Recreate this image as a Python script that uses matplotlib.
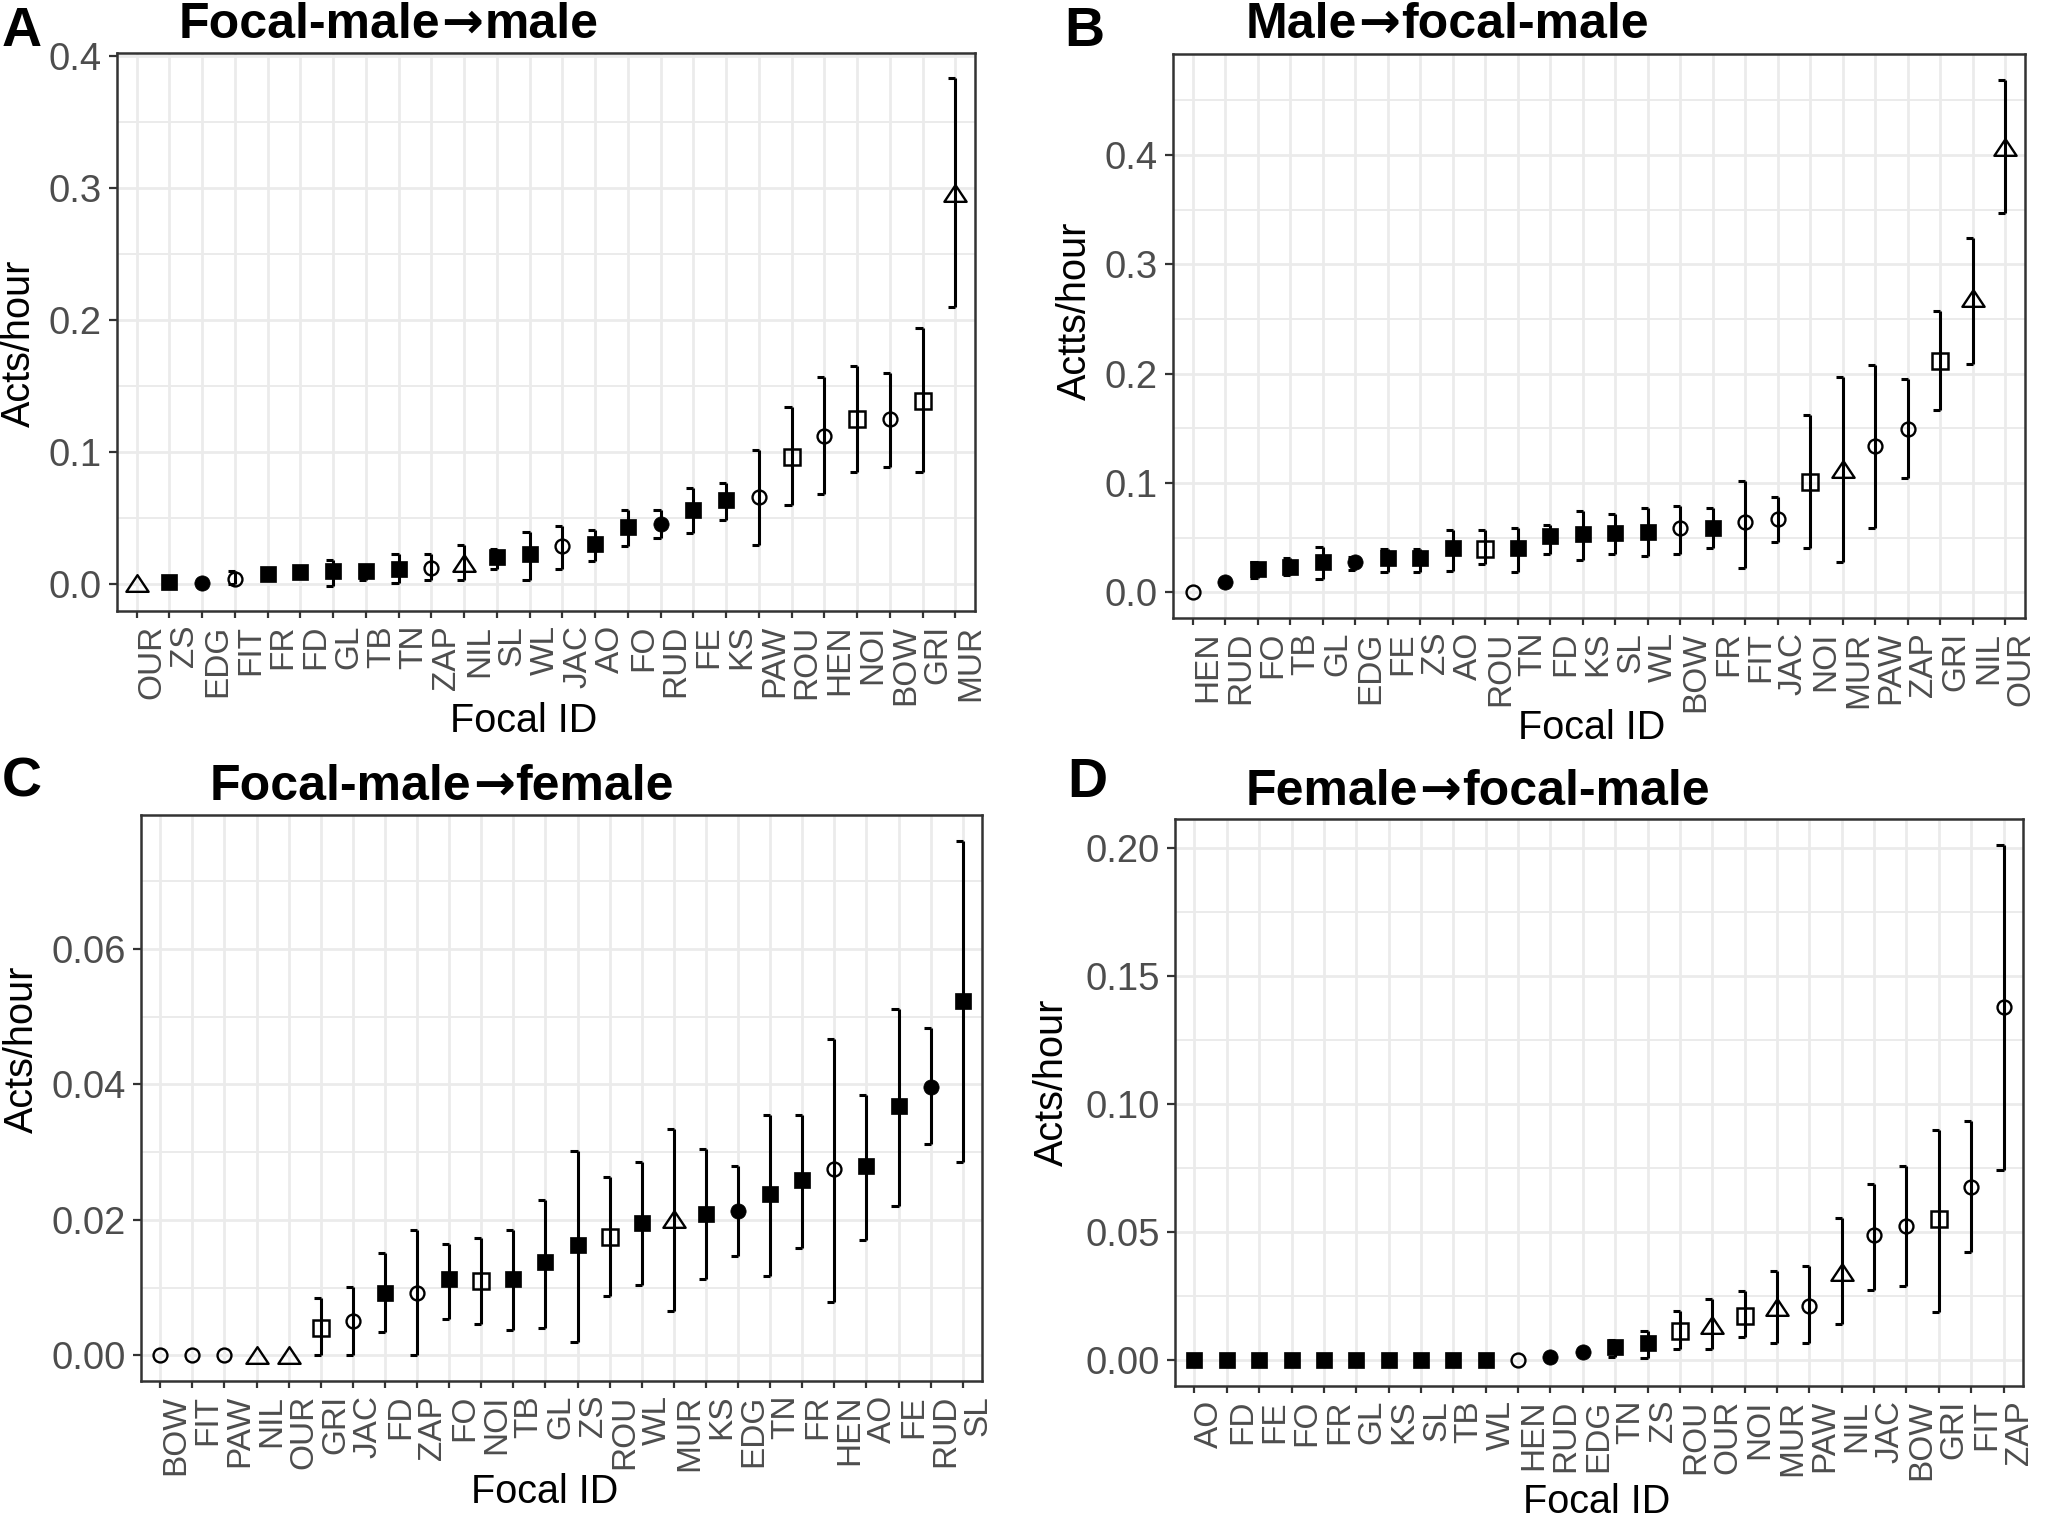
import matplotlib
matplotlib.use("Agg")
import matplotlib.pyplot as plt
from matplotlib.path import Path
from matplotlib.ticker import AutoMinorLocator

# ---------------- data ----------------
A_ids = ["OUR", "ZS", "EDG", "FIT", "FR", "FD", "GL", "TB", "TN", "ZAP", "NIL", "SL", "WL",
         "JAC", "AO", "FO", "RUD", "FE", "KS", "PAW", "ROU", "HEN", "NOI", "BOW", "GRI", "MUR"]
A_mean = [0.001, 0.002, 0.001, 0.004, 0.0077, 0.0094, 0.010, 0.010, 0.0119, 0.0124, 0.016, 0.0207, 0.0227,
          0.029, 0.0308, 0.0434, 0.0455, 0.0566, 0.064, 0.066, 0.0963, 0.112, 0.125, 0.125, 0.139, 0.296]
A_lo = [0.001, 0.002, 0.001, 0.0, 0.0077, 0.0094, -0.001, 0.0035, 0.001, 0.0035, 0.0035, 0.0114, 0.0035,
        0.0119, 0.018, 0.029, 0.035, 0.039, 0.049, 0.030, 0.060, 0.068, 0.085, 0.089, 0.085, 0.210]
A_hi = [0.001, 0.002, 0.001, 0.010, 0.0077, 0.0094, 0.0187, 0.0144, 0.0232, 0.0232, 0.0295, 0.027, 0.0396,
        0.044, 0.0414, 0.056, 0.056, 0.073, 0.077, 0.102, 0.134, 0.157, 0.165, 0.160, 0.194, 0.383]
A_yticks = [0.0, 0.1, 0.2, 0.3, 0.4]
A_yticklabels = ["0.0", "0.1", "0.2", "0.3", "0.4"]

B_ids = ["HEN", "RUD", "FO", "TB", "GL", "EDG", "FE", "ZS", "AO", "ROU", "TN", "FD", "KS", "SL",
         "WL", "BOW", "FR", "FIT", "JAC", "NOI", "MUR", "PAW", "ZAP", "GRI", "NIL", "OUR"]
B_mean = [0.0, 0.0097, 0.0218, 0.023, 0.0279, 0.0279, 0.031, 0.031, 0.0406, 0.0394, 0.0406, 0.0512, 0.0536,
          0.0542, 0.0552, 0.059, 0.0588, 0.0642, 0.067, 0.101, 0.113, 0.134, 0.149, 0.212, 0.269, 0.407]
B_lo = [0.0, 0.0097, 0.0127, 0.016, 0.0118, 0.0203, 0.0188, 0.0188, 0.0197, 0.0255, 0.0188, 0.0355, 0.030,
        0.0355, 0.033, 0.0355, 0.0409, 0.0227, 0.046, 0.041, 0.028, 0.059, 0.105, 0.167, 0.209, 0.347]
B_hi = [0.0, 0.0097, 0.028, 0.031, 0.0415, 0.0324, 0.0394, 0.0394, 0.0567, 0.0567, 0.059, 0.0615, 0.0748,
        0.0718, 0.0773, 0.0794, 0.077, 0.1018, 0.087, 0.162, 0.197, 0.208, 0.195, 0.257, 0.324, 0.469]
B_yticks = [0.0, 0.1, 0.2, 0.3, 0.4]
B_yticklabels = ["0.0", "0.1", "0.2", "0.3", "0.4"]

C_ids = ["BOW", "FIT", "PAW", "NIL", "OUR", "GRI", "JAC", "FD", "ZAP", "FO", "NOI", "TB", "GL", "ZS",
         "ROU", "WL", "MUR", "KS", "EDG", "TN", "FR", "HEN", "AO", "FE", "RUD", "SL"]
C_mean = [0.0, 0.0, 0.0, 0.0, 0.0, 0.0041, 0.005, 0.0092, 0.0092, 0.0112, 0.011, 0.0112, 0.0138, 0.0163,
          0.0174, 0.0196, 0.0201, 0.0209, 0.0213, 0.0238, 0.0259, 0.0275, 0.0279, 0.0368, 0.0396, 0.0524]
C_lo = [0.0, 0.0, 0.0, 0.0, 0.0, 0.0, 0.0, 0.0034, 0.0, 0.0054, 0.0046, 0.0038, 0.0041, 0.002,
        0.0088, 0.0104, 0.0066, 0.0112, 0.0146, 0.0117, 0.0159, 0.0079, 0.0171, 0.022, 0.0312, 0.0286]
C_hi = [0.0, 0.0, 0.0, 0.0, 0.0, 0.0084, 0.0101, 0.0151, 0.0185, 0.0164, 0.0173, 0.0185, 0.023, 0.0301,
        0.0264, 0.0285, 0.0334, 0.0305, 0.028, 0.0355, 0.0355, 0.0467, 0.0384, 0.0512, 0.0483, 0.0760]
C_yticks = [0.00, 0.02, 0.04, 0.06]
C_yticklabels = ["0.00", "0.02", "0.04", "0.06"]

D_ids = ["AO", "FD", "FE", "FO", "FR", "GL", "KS", "SL", "TB", "WL", "HEN", "RUD", "EDG", "TN",
         "ZS", "ROU", "OUR", "NOI", "MUR", "PAW", "NIL", "JAC", "BOW", "GRI", "FIT", "ZAP"]
D_mean = [0.0, 0.0, 0.0, 0.0, 0.0, 0.0, 0.0, 0.0, 0.0, 0.0, 0.0, 0.0012, 0.0033, 0.0053,
          0.0068, 0.0114, 0.0138, 0.0174, 0.0207, 0.0213, 0.0345, 0.049, 0.0522, 0.0551, 0.0674, 0.1377]
D_lo = [0.0, 0.0, 0.0, 0.0, 0.0, 0.0, 0.0, 0.0, 0.0, 0.0, 0.0, 0.0012, 0.0033, 0.0012,
        0.0009, 0.0045, 0.0045, 0.0091, 0.0066, 0.0066, 0.0143, 0.0275, 0.0288, 0.019, 0.0424, 0.0742]
D_hi = [0.0, 0.0, 0.0, 0.0, 0.0, 0.0, 0.0, 0.0, 0.0, 0.0, 0.0, 0.0012, 0.0033, 0.0078,
        0.0114, 0.0191, 0.0237, 0.0272, 0.0349, 0.0368, 0.0555, 0.0689, 0.0756, 0.0898, 0.0932, 0.2011]
D_yticks = [0.00, 0.05, 0.10, 0.15, 0.20]
D_yticklabels = ["0.00", "0.05", "0.10", "0.15", "0.20"]

# marker class of each individual
tri_ids = ["OUR", "NIL", "MUR"]
open_sq_ids = ["ROU", "NOI", "GRI"]
open_circ_ids = ["FIT", "ZAP", "JAC", "PAW", "HEN", "BOW"]
fill_circ_ids = ["EDG", "RUD"]

titles = ["Focal-male\u2192male", "Male\u2192focal-male", "Focal-male\u2192female", "Female\u2192focal-male"]
letters = ["A", "B", "C", "D"]
ylabels = ["Acts/hour", "Actts/hour", "Acts/hour", "Acts/hour"]
xlabel = "Focal ID"

# ---------------- style ----------------
W, H = 2048, 1519
plt.rcParams["font.family"] = ["Liberation Sans", "DejaVu Sans"]
fig = plt.figure(figsize=(W / 100, H / 100), dpi=100)
renderer = fig.canvas.get_renderer()

tri_path = Path([(-1, -0.75), (1, -0.75), (0, 0.75), (-1, -0.75)],
                [Path.MOVETO, Path.LINETO, Path.LINETO, Path.CLOSEPOLY])


def style_for(name):
    if name in tri_ids:
        return dict(marker=tri_path, ms=16, mfc="none", mec="black", mew=1.7)
    if name in open_sq_ids:
        return dict(marker="s", ms=11.5, mfc="none", mec="black", mew=1.8)
    if name in open_circ_ids:
        return dict(marker="o", ms=10, mfc="none", mec="black", mew=1.7)
    if name in fill_circ_ids:
        return dict(marker="o", ms=11, mfc="black", mec="black", mew=0.5)
    return dict(marker="s", ms=11, mfc="black", mec="black", mew=0.5)


def px_rect(l, t, r, b):
    return [l / W, 1 - b / H, (r - l) / W, (b - t) / H]


def ftext(x, y, s, **kw):
    return fig.text(x / W, 1 - y / H, s, **kw)


def title_text(x, y, s, size):
    # draw the title in pieces so the arrow uses DejaVu Sans (larger arrow glyph)
    left, right = s.split("\u2192")
    pieces = [(left, ["Liberation Sans"]), ("\u2192", ["DejaVu Sans"]), (right, ["Liberation Sans"])]
    cur = x
    for txt, fam in pieces:
        t = ftext(cur, y, txt, fontsize=size, fontweight="bold", family=fam,
                  ha="left", va="baseline")
        bb = t.get_window_extent(renderer)
        cur = bb.x1 + 1


panels = [
    dict(ids=A_ids, mean=A_mean, lo=A_lo, hi=A_hi, yt=A_yticks, ytl=A_yticklabels,
         rect=(117, 53, 975, 611), title=(179, 38), letter=(2, 46), ylab=(19, 343), xlab=(524, 721)),
    dict(ids=B_ids, mean=B_mean, lo=B_lo, hi=B_hi, yt=B_yticks, ytl=B_yticklabels,
         rect=(1173, 54, 2025, 618), title=(1246, 38), letter=(1064, 46), ylab=(1075, 311), xlab=(1592, 728)),
    dict(ids=C_ids, mean=C_mean, lo=C_lo, hi=C_hi, yt=C_yticks, ytl=C_yticklabels,
         rect=(141, 815, 982, 1381), title=(210, 800), letter=(2, 797), ylab=(22, 1049), xlab=(545, 1492)),
    dict(ids=D_ids, mean=D_mean, lo=D_lo, hi=D_hi, yt=D_yticks, ytl=D_yticklabels,
         rect=(1175, 819, 2023, 1386), title=(1246, 805), letter=(1067, 797), ylab=(1052, 1082), xlab=(1597, 1502)),
]

grid_c = "#EBEBEB"
dark = "#333333"
tick_c = "#4D4D4D"

for k, p in enumerate(panels):
    ax = fig.add_axes(px_rect(*p["rect"]))
    ax.set_axisbelow(True)
    n = len(p["ids"])
    for i, name in enumerate(p["ids"]):
        lo, hi, m = p["lo"][i], p["hi"][i], p["mean"][i]
        if hi > lo:
            ax.vlines(i, lo, hi, color="black", lw=2.2, zorder=2)
            ax.hlines([lo, hi], i - 0.22, i, color="black", lw=2.2, zorder=2)
        ax.plot([i], [m], linestyle="none", zorder=3, **style_for(name))

    ymin = min(min(p["lo"]), min(p["mean"]))
    ymax = max(max(p["hi"]), max(p["mean"]))
    pad = 0.05 * (ymax - ymin)
    ax.set_ylim(ymin - pad, ymax + pad)
    ax.set_xlim(-0.6, n - 0.4)

    ax.set_yticks(p["yt"])
    ax.set_yticklabels(p["ytl"])
    ax.yaxis.set_minor_locator(AutoMinorLocator(2))
    ax.set_xticks(range(n))
    ax.set_xticklabels(p["ids"], rotation=90, ha="left", va="top")

    ax.tick_params(axis="y", which="major", labelsize=27.5, labelcolor=tick_c, color=dark,
                   length=6, width=1.6, pad=5)
    ax.tick_params(axis="x", which="major", labelsize=24, labelcolor=tick_c, color=dark,
                   length=5, width=1.6, pad=5)
    ax.tick_params(which="minor", length=0)

    ax.grid(which="major", color=grid_c, lw=2.0)
    ax.grid(which="minor", axis="y", color=grid_c, lw=1.4)
    for s in ax.spines.values():
        s.set_color(dark)
        s.set_linewidth(1.8)

    title_text(p["title"][0], p["title"][1], titles[k], 36)
    ftext(p["letter"][0], p["letter"][1], letters[k], fontsize=40, fontweight="bold",
          ha="left", va="baseline")
    ftext(p["ylab"][0], p["ylab"][1], ylabels[k], fontsize=28.5, rotation=90,
          ha="center", va="center")
    ftext(p["xlab"][0], p["xlab"][1], xlabel, fontsize=28.5, ha="center", va="center")

fig.savefig("out.png", dpi=100, facecolor="white")
